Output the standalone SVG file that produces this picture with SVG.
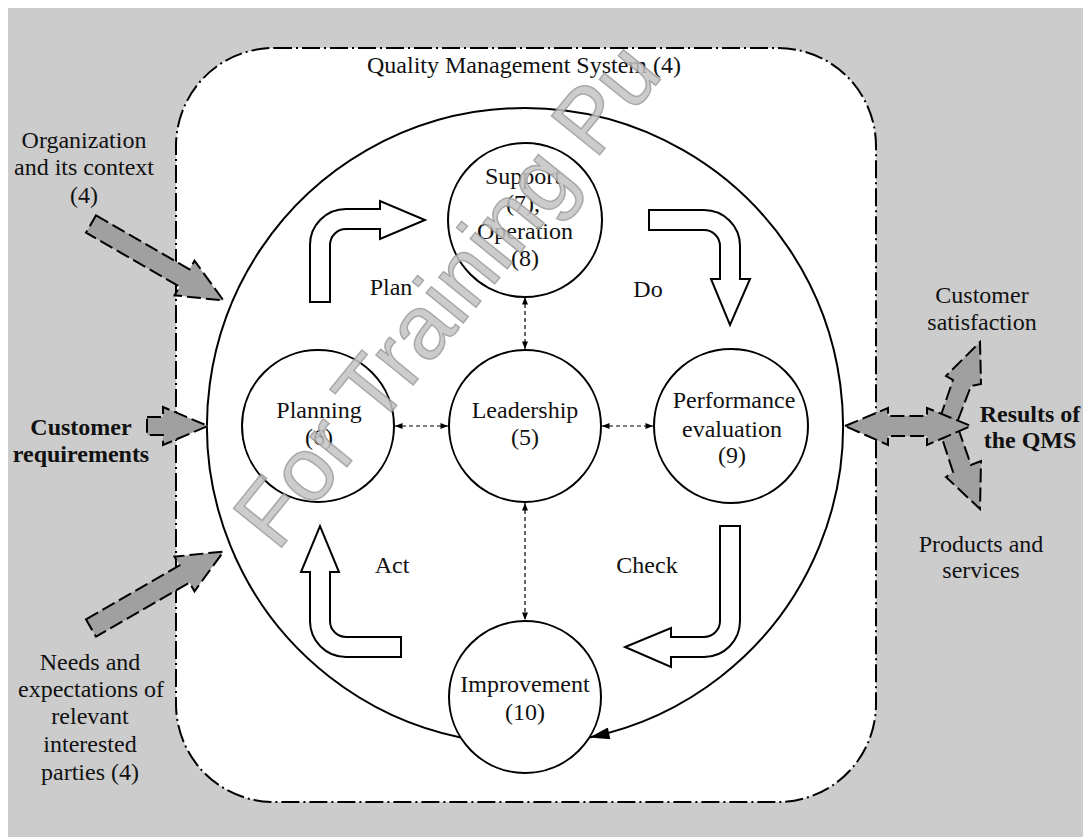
<svg xmlns="http://www.w3.org/2000/svg" width="1083" height="837" viewBox="0 0 1083 837">
<defs>
<style>
.t{font-family:"Liberation Serif","Times New Roman",serif;font-size:24px;fill:#111;text-anchor:middle}
.b{font-weight:bold}
.node{fill:#fff;stroke:#000;stroke-width:2}
.pdca{fill:#fff;stroke:#000;stroke-width:2;stroke-linejoin:miter}
.gray{fill:#a0a0a0;stroke:#000;stroke-width:2;stroke-dasharray:14 5;stroke-linejoin:miter}
.dash{fill:none;stroke:#000;stroke-width:1.2;stroke-dasharray:4 3;marker-start:url(#sm);marker-end:url(#sm)}
.wm{font-family:"Liberation Sans",Arial,sans-serif;font-size:90px;fill:#c4c4c4;stroke:#9a9a9a;stroke-width:1.5;opacity:0.85}
</style>
<marker id="sm" viewBox="0 0 10 8" refX="10" refY="4" markerWidth="8" markerHeight="6" markerUnits="userSpaceOnUse" orient="auto-start-reverse">
<path d="M0,0 L10,4 L0,8 Z" fill="#000"/>
</marker>
<marker id="big" viewBox="0 0 20 12" refX="20" refY="6" markerWidth="22" markerHeight="12" markerUnits="userSpaceOnUse" orient="auto">
<path d="M0,0 L20,6 L0,12 Z" fill="#000"/>
</marker>
</defs>

<rect x="8" y="8" width="1075" height="829" fill="#cccccc"/>

<g id="qms">
<rect x="176" y="48" width="700" height="754" rx="98" ry="98" fill="#fff" stroke="#000" stroke-width="2" stroke-dasharray="18 4 2 4"/>
<text class="t" x="524" y="73">Quality Management System (4)</text>
</g>

<g id="connectors">
<path d="M460.5,737.4 A318,318 0 1 1 589.5,737.4" fill="none" stroke="#000" stroke-width="2" marker-end="url(#big)"/>
<line class="dash" x1="525" y1="297" x2="525" y2="349"/>
<line class="dash" x1="395" y1="426" x2="448" y2="426"/>
<line class="dash" x1="602" y1="426" x2="653" y2="426"/>
<line class="dash" x1="525" y1="503" x2="525" y2="620"/>
</g>

<g id="pdca-arrows">
<path class="pdca" d="M310,302 L310,245 A36,36 0 0 1 346,209 L380,209 L380,201 L425,220 L380,239 L380,229 L346,229 A16,16 0 0 0 330,245 L330,302 Z"/>
<path class="pdca" d="M649,210 L704,210 A36,36 0 0 1 740,246 L740,279 L750,279 L730,325 L711,279 L720,279 L720,246 A16,16 0 0 0 704,230 L649,230 Z"/>
<path class="pdca" d="M720,526 L740,526 L740,621 A36,36 0 0 1 704,657 L671,657 L671,667 L625,647 L671,628 L671,637 L704,637 A16,16 0 0 0 720,621 Z"/>
<path class="pdca" d="M401,637 L401,657 L346,657 A36,36 0 0 1 310,621 L310,572 L301,572 L320,526 L339,572 L330,572 L330,621 A16,16 0 0 0 346,637 Z"/>
<text class="t" x="391" y="295">Plan</text>
<text class="t" x="648" y="297">Do</text>
<text class="t" x="392" y="573">Act</text>
<text class="t" x="647" y="573">Check</text>
</g>

<g id="support">
<circle class="node" cx="525" cy="220" r="77"/>
<text class="t" x="523" y="184">Support</text>
<text class="t" x="523" y="211">(7),</text>
<text class="t" x="525" y="239">Operation</text>
<text class="t" x="525" y="266">(8)</text>
</g>

<g id="planning">
<circle class="node" cx="318" cy="426" r="76"/>
<text class="t" x="319" y="418">Planning</text>
<text class="t" x="319" y="445">(6)</text>
</g>

<g id="leadership">
<circle class="node" cx="525" cy="426" r="76"/>
<text class="t" x="525" y="418">Leadership</text>
<text class="t" x="525" y="445">(5)</text>
</g>

<g id="performance">
<circle class="node" cx="731" cy="426" r="77"/>
<text class="t" x="734" y="408">Performance</text>
<text class="t" x="732" y="437">evaluation</text>
<text class="t" x="732" y="463">(9)</text>
</g>

<g id="improvement">
<circle class="node" cx="525" cy="697" r="76"/>
<text class="t" x="525" y="692">Improvement</text>
<text class="t" x="525" y="720">(10)</text>
</g>

<g id="input-organization">
<polygon class="gray" transform="translate(91,224) rotate(30)" points="0,-10 108,-10 108,-20 153,0 108,20 108,10 0,10"/>
<text class="t" x="84" y="148">Organization</text>
<text class="t" x="84" y="175">and its context</text>
<text class="t" x="84" y="203">(4)</text>
</g>

<g id="input-customer">
<polygon class="gray" points="147,417 163,417 163,407 208,426 163,445 163,435 147,435"/>
<text class="t b" x="81" y="435">Customer</text>
<text class="t b" x="81" y="462">requirements</text>
</g>

<g id="input-needs">
<polygon class="gray" transform="translate(91,628) rotate(-30)" points="0,-10 108,-10 108,-20 153,0 108,20 108,10 0,10"/>
<text class="t" x="90" y="670">Needs and</text>
<text class="t" x="91" y="697">expectations of</text>
<text class="t" x="90" y="724">relevant</text>
<text class="t" x="90" y="752">interested</text>
<text class="t" x="90" y="780">parties (4)</text>
</g>

<g id="results">
<polygon class="gray" points="940,418 953,380 946,376 980,342 981,384 971,386 958,420"/>
<polygon class="gray" points="940,432 958,428 971,465 981,461 980,509 946,477 953,472"/>
<polygon class="gray" points="845,426 888,408 888,416 927,416 927,408 971,426 927,445 927,436 888,436 888,445"/>
<text class="t b" x="1030" y="422">Results of</text>
<text class="t b" x="1030" y="448">the QMS</text>
</g>

<g id="output-satisfaction">
<text class="t" x="982" y="303">Customer</text>
<text class="t" x="982" y="330">satisfaction</text>
</g>

<g id="output-products">
<text class="t" x="981" y="552">Products and</text>
<text class="t" x="981" y="578">services</text>
</g>

<text class="wm" x="277" y="553" transform="rotate(-51 277 553)">For Training Pu</text>
</svg>
